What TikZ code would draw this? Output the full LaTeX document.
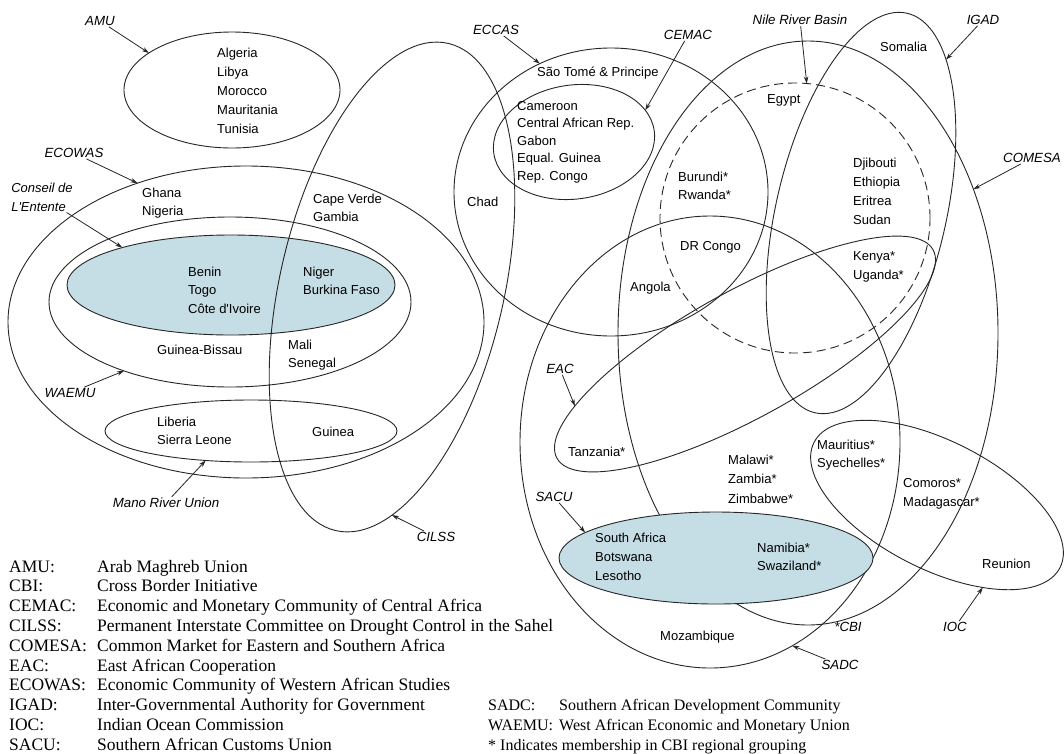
\documentclass[tikz,border=0pt]{standalone}
\usepackage{fontspec}
\setmainfont{Liberation Serif}
\newfontfamily\lblfont{Liberation Sans}
\usetikzlibrary{shapes.geometric,arrows.meta}
\definecolor{shade}{RGB}{197,221,228}
\begin{document}
\begin{tikzpicture}[x=1pt,y=-1pt,
	group/.style={ellipse, draw=black!85, line width=0.9pt, inner sep=0pt, outer sep=0pt},
	country/.style={font=\lblfont\fontsize{13}{18.5}\selectfont, align=left, anchor=west, inner sep=0pt},
	tag/.style={font=\lblfont\fontsize{13.3}{15}\selectfont\itshape, inner sep=1pt},
	pointer/.style={draw=black!85, line width=0.8pt, -{Stealth[length=7pt,width=4.5pt]}},
	legend/.style={font=\fontsize{17.5}{19.6}\selectfont, anchor=base west, inner sep=0pt},
	legendr/.style={font=\fontsize{16}{19.6}\selectfont, anchor=base west, inner sep=0pt}]
	\fill[white] (0,0) rectangle (1064,753);
	\useasboundingbox (0,0) rectangle (1064,753);

	% west africa
	\node (ecowas)  at (246,322)	[group, minimum width=476pt, minimum height=312pt]	{};
	\node (waemu)   at (230,302)	[group, minimum width=362pt, minimum height=170pt]	{};
	\node (conseil) at (231,285)	[group, fill=shade, minimum width=328pt, minimum height=100pt]	{};
	\node (mano)    at (251,431)	[group, minimum width=292pt, minimum height=62pt]	{};
	\node (cilss)   at (392,287)	[group, rotate=77, minimum width=500pt, minimum height=224pt]	{};
	\node (amu)     at (232,90)	[group, minimum width=216pt, minimum height=116pt]	{};

	% central, east and southern africa
	\node (eccas)   at (611,192)	[group, minimum width=314pt, minimum height=288pt]	{};
	\node (cemac)   at (574,142)	[group, rotate=8, minimum width=162pt, minimum height=114pt]	{};
	\node (nile)    at (795,218)	[group, dash pattern=on 9pt off 5pt, minimum width=270pt, minimum height=270pt]	{};
	\node (igad)    at (861,213)	[group, rotate=77, minimum width=410pt, minimum height=170pt]	{};
	\node (comesa)  at (808,333)	[group, minimum width=380pt, minimum height=584pt]	{};
	\node (eac)     at (745,354)	[group, rotate=29, minimum width=430pt, minimum height=126pt]	{};
	\node (sadc)    at (710,442)	[group, minimum width=380pt, minimum height=452pt]	{};
	\node (sacu)    at (716,558)	[group, fill=shade, minimum width=314pt, minimum height=92pt]	{};
	\node (ioc)     at (937,505)	[group, rotate=-27, minimum width=276pt, minimum height=128pt]	{};

	% member countries
	\node (maghreb)  at (217,91)	[country, font=\lblfont\fontsize{13}{19}\selectfont]	{Algeria\\Libya\\Morocco\\Mauritania\\Tunisia};
	\node (ghana)    at (142,203)	[country]	{Ghana\\Nigeria};
	\node (capeverde) at (313,208)	[country]	{Cape Verde\\Gambia};
	\node (benin)    at (188,290)	[country]	{Benin\\Togo\\Côte d'Ivoire};
	\node (niger)    at (303,281)	[country]	{Niger\\Burkina Faso};
	\node (bissau)   at (157,350)	[country]	{Guinea-Bissau};
	\node (mali)     at (288,355)	[country]	{Mali\\Senegal};
	\node (liberia)  at (157,431)	[country]	{Liberia\\Sierra Leone};
	\node (guinea)   at (312,432)	[country]	{Guinea};
	\node (saotome)  at (537,73)	[country]	{São Tomé \& Principe};
	\node (cameroon) at (517,142)	[country, font=\lblfont\fontsize{13}{17.5}\selectfont]	{Cameroon\\Central African Rep.\\Gabon\\Equal. Guinea\\Rep. Congo};
	\node (chad)     at (467,202)	[country]	{Chad};
	\node (burundi)  at (678,186)	[country]	{Burundi*\\Rwanda*};
	\node (drcongo)  at (680,247)	[country]	{DR Congo};
	\node (angola)   at (630,288)	[country]	{Angola};
	\node (egypt)    at (767,100)	[country]	{Egypt};
	\node (somalia)  at (880,47)	[country]	{Somalia};
	\node (djibouti) at (853,191)	[country, font=\lblfont\fontsize{13}{19}\selectfont]	{Djibouti\\Ethiopia\\Eritrea\\Sudan};
	\node (kenya)    at (853,267)	[country]	{Kenya*\\Uganda*};
	\node (tanzania) at (568,452)	[country]	{Tanzania*};
	\node (malawi)   at (728,479)	[country, font=\lblfont\fontsize{13}{19.5}\selectfont]	{Malawi*\\Zambia*\\Zimbabwe*};
	\node (mauritius) at (817,455)	[country]	{Mauritius*\\Syechelles*};
	\node (comoros)  at (903,494)	[country]	{Comoros*\\Madagascar*};
	\node (safrica)  at (595,557)	[country, font=\lblfont\fontsize{13}{19}\selectfont]	{South Africa\\Botswana\\Lesotho};
	\node (namibia)  at (757,557)	[country]	{Namibia*\\Swaziland*};
	\node (reunion)  at (982,564)	[country]	{Reunion};
	\node (mozamb)   at (660,637)	[country]	{Mozambique};

	% group names
	\node (amulbl)     at (100,21)	[tag]	{AMU};
	\node (ecowaslbl)  at (74,153)	[tag]	{ECOWAS};
	\node (conseillbl) at (42,197)	[tag, align=left, font=\lblfont\fontsize{13}{19}\selectfont\itshape]	{Conseil de\\L'Entente};
	\node (waemulbl)   at (70,393)	[tag]	{WAEMU};
	\node (manolbl)    at (166,503)	[tag]	{Mano River Union};
	\node (cilsslbl)   at (436,537)	[tag]	{CILSS};
	\node (eccaslbl)   at (496,30)	[tag]	{ECCAS};
	\node (cemaclbl)   at (688,35)	[tag]	{CEMAC};
	\node (nilelbl)    at (800,20)	[tag]	{Nile River Basin};
	\node (igadlbl)    at (983,20)	[tag]	{IGAD};
	\node (comesalbl)  at (1032,158)	[tag]	{COMESA};
	\node (eaclbl)     at (560,369)	[tag]	{EAC};
	\node (saculbl)    at (554,497)	[tag]	{SACU};
	\node (cbilbl)     at (848,627)	[tag]	{*CBI};
	\node (ioclbl)     at (955,627)	[tag]	{IOC};
	\node (sadclbl)    at (840,665)	[tag]	{SADC};

	\draw[pointer] (amulbl) -- (amu.156);
	\draw[pointer] (ecowaslbl) -- (ecowas.128);
	\draw[pointer] (conseillbl) -- (conseil.161);
	\draw[pointer] (waemulbl) -- (waemu.213);
	\draw[pointer] (manolbl) -- (mano.213);
	\draw[pointer] (cilsslbl) -- (cilss.193);
	\draw[pointer] (eccaslbl) -- (eccas.119);
	\draw[pointer] (cemaclbl) -- (cemac.16);
	\draw[pointer] (nilelbl) -- (nile.85);
	\draw[pointer] (igadlbl) -- (igad.344);
	\draw[pointer] (comesalbl) -- (comesa.41);
	\draw[pointer] (eaclbl) -- (eac.168);
	\draw[pointer] (saculbl) -- (sacu.169);
	\draw[pointer] (sadclbl) -- (sadc.292);
	\draw[pointer] (ioclbl) -- (ioc.326);

	% legend
	\foreach \ab/\txt [count=\i] in {AMU:/Arab Maghreb Union, CBI:/Cross Border Initiative,
		CEMAC:/Economic and Monetary Community of Central Africa,
		CILSS:/Permanent Interstate Committee on Drought Control in the Sahel,
		COMESA:/Common Market for Eastern and Southern Africa, EAC:/East African Cooperation,
		ECOWAS:/Economic Community of Western African Studies,
		IGAD:/Inter-Governmental Authority for Government, IOC:/Indian Ocean Commission,
		SACU:/Southern African Customs Union}
	{
		\node (ab\i)  at (9,{572+19.8*(\i-1)})	[legend]	{\ab};
		\node (def\i) at (97,{572+19.8*(\i-1)})	[legend]	{\txt};
	}
	\node (absadc)   at (488,710.6)	[legendr]	{SADC:};
	\node (defsadc)  at (559,710.6)	[legendr]	{Southern African Development Community};
	\node (abwaemu)  at (488,730.4)	[legendr]	{WAEMU:};
	\node (defwaemu) at (559,730.4)	[legendr]	{West African Economic and Monetary Union};
	\node (star)     at (488,750.2)	[legendr]	{* Indicates membership in CBI regional grouping};
\end{tikzpicture}
\end{document}
